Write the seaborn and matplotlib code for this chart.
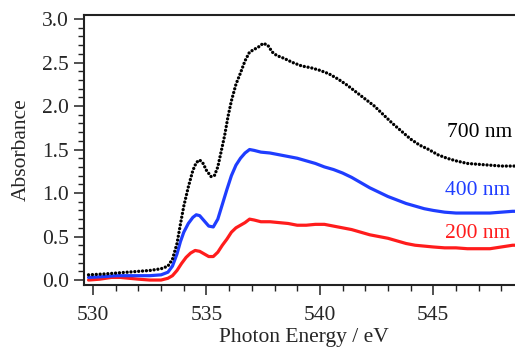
import numpy as np
import pandas as pd
import matplotlib
matplotlib.use("Agg")
import matplotlib.pyplot as plt
from matplotlib.ticker import MultipleLocator
import seaborn as sns

# ---- data ----
energy_700 = [529.8, 530.5, 531.0, 531.5, 532.0, 532.5, 533.0, 533.3, 533.5, 533.7, 533.85, 534.0,
              534.2, 534.4, 534.55, 534.7, 534.85, 535.0, 535.2, 535.35, 535.5, 535.65, 535.8, 535.95,
              536.1, 536.3, 536.5, 536.7, 536.9, 537.1, 537.3, 537.5, 537.7, 537.9, 538.1, 538.4,
              538.8, 539.2, 539.6, 540.0, 540.4, 540.8, 541.2, 541.6, 542.0, 542.4, 542.8, 543.2,
              543.6, 544.0, 544.4, 544.8, 545.2, 545.6, 546.0, 546.5, 547.0, 547.5, 548.0, 548.5, 549.0]
absorb_700 = [0.06, 0.07, 0.08, 0.09, 0.10, 0.11, 0.13, 0.16, 0.24, 0.42, 0.64, 0.85,
              1.07, 1.26, 1.35, 1.38, 1.34, 1.26, 1.19, 1.20, 1.30, 1.48, 1.66, 1.88,
              2.06, 2.25, 2.38, 2.52, 2.62, 2.65, 2.68, 2.72, 2.70, 2.62, 2.58, 2.55,
              2.50, 2.46, 2.44, 2.41, 2.37, 2.31, 2.24, 2.16, 2.08, 2.00, 1.90, 1.80,
              1.71, 1.62, 1.55, 1.50, 1.44, 1.40, 1.37, 1.34, 1.33, 1.32, 1.31, 1.31, 1.31]

energy_400 = [529.8, 530.5, 531.0, 531.5, 532.0, 532.5, 533.0, 533.3, 533.5, 533.7, 533.85, 534.0,
              534.2, 534.4, 534.55, 534.7, 534.9, 535.1, 535.3, 535.5, 535.7, 535.9, 536.1, 536.3,
              536.5, 536.7, 536.9, 537.1, 537.4, 537.8, 538.2, 538.6, 539.0, 539.4, 539.8, 540.2,
              540.6, 541.0, 541.4, 541.8, 542.2, 542.6, 543.0, 543.4, 543.8, 544.2, 544.6, 545.0,
              545.5, 546.0, 546.5, 547.0, 547.5, 548.0, 548.5, 549.0]
absorb_400 = [0.03, 0.04, 0.05, 0.05, 0.05, 0.05, 0.06, 0.09, 0.16, 0.30, 0.44, 0.55,
              0.65, 0.72, 0.75, 0.74, 0.68, 0.62, 0.61, 0.70, 0.87, 1.04, 1.20, 1.32,
              1.40, 1.46, 1.50, 1.49, 1.47, 1.46, 1.44, 1.42, 1.40, 1.37, 1.34, 1.30,
              1.27, 1.23, 1.18, 1.12, 1.06, 1.01, 0.96, 0.92, 0.88, 0.85, 0.82, 0.80,
              0.78, 0.77, 0.77, 0.77, 0.77, 0.78, 0.79, 0.79]

energy_200 = [529.8, 530.3, 530.8, 531.2, 531.6, 532.0, 532.5, 533.0, 533.3, 533.5, 533.7, 533.9,
              534.1, 534.3, 534.5, 534.7, 534.9, 535.1, 535.3, 535.5, 535.7, 535.9, 536.1, 536.3,
              536.5, 536.7, 536.9, 537.1, 537.4, 537.8, 538.2, 538.6, 539.0, 539.4, 539.8, 540.2,
              540.6, 541.0, 541.4, 541.8, 542.2, 542.6, 543.0, 543.4, 543.8, 544.2, 544.6, 545.0,
              545.5, 546.0, 546.5, 547.0, 547.5, 548.0, 548.5, 549.0]
absorb_200 = [0.00, 0.01, 0.03, 0.03, 0.02, 0.01, 0.00, 0.00, 0.02, 0.05, 0.11, 0.19,
              0.26, 0.31, 0.34, 0.33, 0.30, 0.27, 0.27, 0.32, 0.40, 0.47, 0.55, 0.60,
              0.63, 0.66, 0.70, 0.69, 0.67, 0.67, 0.66, 0.65, 0.63, 0.63, 0.64, 0.64,
              0.62, 0.60, 0.58, 0.55, 0.52, 0.50, 0.48, 0.45, 0.42, 0.40, 0.39, 0.38,
              0.37, 0.37, 0.36, 0.36, 0.36, 0.38, 0.40, 0.40]

series_labels = ["700 nm", "400 nm", "200 nm"]
series_colors = ["#000000", "#1f3dff", "#ff1c1c"]
label_x = [545.6, 545.5, 545.5]
label_y = [1.70, 1.03, 0.54]

x_ticks = [530, 535, 540, 545]
y_ticks = [0.0, 0.5, 1.0, 1.5, 2.0, 2.5, 3.0]

sns.set_style("ticks")
plt.rcParams["font.family"] = ["Liberation Serif", "DejaVu Serif"]
plt.rcParams["font.size"] = 15

fig = plt.figure(figsize=(5.15, 3.47), dpi=100)
ax = fig.add_axes([84 / 515, 62 / 347, 440 / 515, 270 / 347])

df700 = pd.DataFrame({"E": energy_700, "A": absorb_700})
df400 = pd.DataFrame({"E": energy_400, "A": absorb_400})
df200 = pd.DataFrame({"E": energy_200, "A": absorb_200})

sns.lineplot(data=df200, x="E", y="A", ax=ax, color=series_colors[2], lw=2.3, sort=False)
sns.lineplot(data=df400, x="E", y="A", ax=ax, color=series_colors[1], lw=2.3, sort=False)
sns.lineplot(data=df700, x="E", y="A", ax=ax, color=series_colors[0], lw=2.4, sort=False)
line = ax.lines[-1]
line.set_linestyle((0, (0.01, 1.15)))
line.set_dash_capstyle("round")

for txt, c, lx, ly in zip(series_labels, series_colors, label_x, label_y):
    ax.text(lx, ly, txt, color=c, fontsize=15.5, va="center", ha="left")

ax.set_xlim(529.6, 549.0)
ax.set_ylim(-0.057, 3.046)
ax.set_xticks(x_ticks)
ax.set_yticks(y_ticks)
ax.set_yticklabels([f"{v:.1f}" for v in y_ticks])
ax.xaxis.set_minor_locator(MultipleLocator(1))
ax.yaxis.set_minor_locator(MultipleLocator(0.1))
ax.tick_params(which="major", direction="out", length=7, width=1.1, labelsize=15.5, color="#222222")
ax.tick_params(which="minor", direction="out", length=4, width=1.0, color="#222222")
ax.tick_params(axis="x", which="major", pad=8)
ax.tick_params(axis="y", which="major", pad=4)
ax.set_xlabel("Photon Energy / eV", fontsize=15.5, labelpad=2)
ax.set_ylabel("Absorbance", fontsize=15.5, labelpad=8)
for s in ["left", "bottom", "top"]:
    ax.spines[s].set_linewidth(1.5)
    ax.spines[s].set_color("#222222")
ax.spines["right"].set_visible(False)

fig.savefig("out.png", dpi=100)
